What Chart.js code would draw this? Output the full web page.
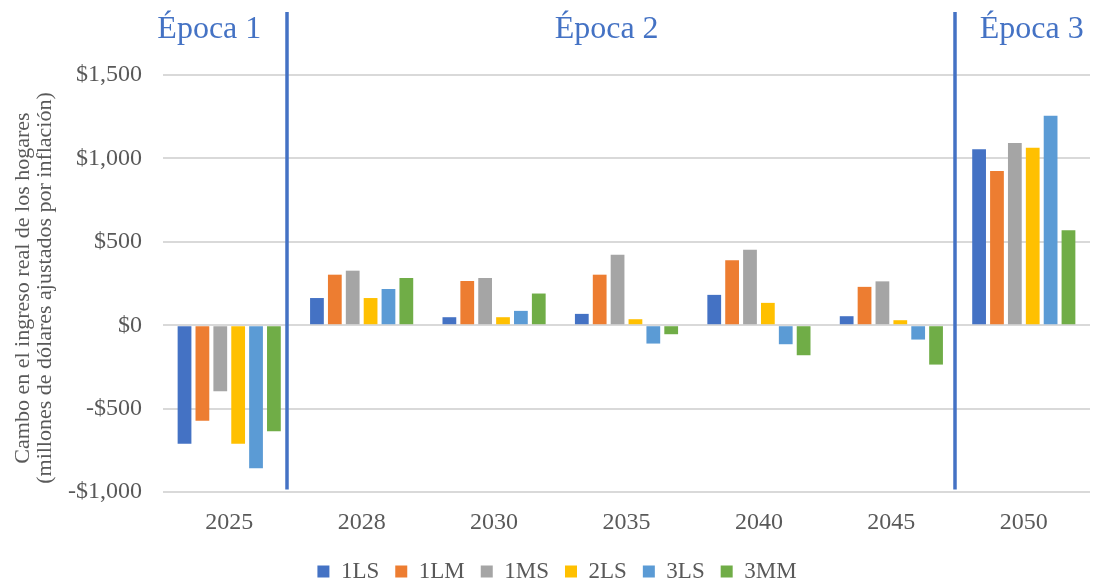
<!DOCTYPE html>
<html>
<head>
<meta charset="utf-8">
<script src="https://cdn.jsdelivr.net/npm/chart.js@4.4.1/dist/chart.umd.min.js"></script>
<style>
  html, body { margin: 0; padding: 0; background: #fff; }
  #wrap { width: 1093px; height: 583px; position: relative; }
</style>
</head>
<body>
<div id="wrap"><canvas id="chart"></canvas></div>
<script>
const years = ['2025', '2028', '2030', '2035', '2040', '2045', '2050'];
const seriesNames = ['1LS', '1LM', '1MS', '2LS', '3LS', '3MM'];
const s1LS = [-711, 163, 48, 68, 182, 54, 1055];
const s1LM = [-573, 303, 265, 303, 389, 230, 924];
const s1MS = [-396, 327, 283, 423, 453, 263, 1092];
const s2LS = [-711, 163, 48, 36, 134, 30, 1064];
const s3LS = [-858, 217, 86, -110, -114, -86, 1256];
const s3MM = [-636, 283, 190, -54, -180, -236, 569];
const yTicks = [-1000, -500, 0, 500, 1000, 1500];
const seriesColors = ['#4472C4', '#ED7D31', '#A5A5A5', '#FFC000', '#5B9BD5', '#70AD47'];
const yTitle = ['Cambo en el ingreso real de los hogares', '(millones de dólares ajustados por inflación)'];

// epoch dividers (category index position) and labels
const epochLines = [0.44, 5.48];
const epochLabels = ['Época 1', 'Época 2', 'Época 3'];
const epochLabelPos = [-0.15, 2.85, 6.06];

const serif = "'Liberation Serif', 'DejaVu Serif', serif";

const epochPlugin = {
    id: 'epochs',
    beforeInit(chart) {
        // fixed legend height, and nudge the legend row to where the original has it
        const legend = chart.legend;
        const fit = legend.fit;
        legend.fit = function() {
            fit.call(legend);
            legend.height = 47;
        };
        const draw = legend.draw;
        legend.draw = function() {
            chart.ctx.save();
            chart.ctx.translate(12, 8);
            draw.call(legend);
            chart.ctx.restore();
        };
    },
    afterDatasetsDraw(chart) {
        const ctx = chart.ctx;
        const x = chart.scales.x;
        const y = chart.scales.y;
        ctx.save();
        ctx.strokeStyle = '#4472C4';
        ctx.lineWidth = 3.5;
        epochLines.forEach(v => {
            const px = Math.round(x.getPixelForValue(v));
            ctx.beginPath();
            ctx.moveTo(px, chart.chartArea.top);
            ctx.lineTo(px, y.getPixelForValue(-985));
            ctx.stroke();
        });
        ctx.fillStyle = '#4472C4';
        ctx.font = '32px ' + serif;
        ctx.textAlign = 'center';
        ctx.textBaseline = 'alphabetic';
        epochLabels.forEach((t, i) => {
            ctx.fillText(t, x.getPixelForValue(epochLabelPos[i]), 38);
        });

        // y axis title, two rotated lines
        ctx.fillStyle = '#595959';
        ctx.font = '22px ' + serif;
        ctx.textBaseline = 'middle';
        ctx.translate(0, 288);
        ctx.rotate(-Math.PI / 2);
        ctx.fillText(yTitle[0], 0, 23);
        ctx.fillText(yTitle[1], 0, 45);
        ctx.restore();
    }
};

const allSeries = [s1LS, s1LM, s1MS, s2LS, s3LS, s3MM];
const datasets = seriesNames.map((name, i) => ({
    label: name,
    data: allSeries[i],
    backgroundColor: seriesColors[i],
    borderWidth: 0,
    categoryPercentage: 0.81,
    barPercentage: 0.77
}));

new Chart(document.getElementById('chart').getContext('2d'), {
    type: 'bar',
    data: { labels: years, datasets: datasets },
    options: {
        responsive: true,
        maintainAspectRatio: false,
        animation: false,
        layout: { padding: { top: 12, right: 3, left: 0, bottom: 0 } },
        plugins: {
            legend: {
                position: 'bottom',
                labels: {
                    boxWidth: 12,
                    boxHeight: 12,
                    padding: 16,
                    color: '#595959',
                    font: { family: serif, size: 23 }
                }
            },
            tooltip: { enabled: false }
        },
        scales: {
            x: {
                grid: { display: false, drawTicks: false },
                border: { display: false },
                afterFit(scale) { scale.height = 44; },
                ticks: {
                    color: '#595959',
                    padding: 16,
                    font: { family: serif, size: 24 }
                }
            },
            y: {
                min: -1000,
                max: 1878,
                afterBuildTicks(scale) {
                    scale.ticks = yTicks.map(v => ({ value: v }));
                },
                afterFit(scale) {
                    scale.width = 163;
                    scale.paddingTop = 0;
                    scale.paddingBottom = 0;
                },
                ticks: {
                    color: '#595959',
                    padding: 21,
                    font: { family: serif, size: 24 },
                    callback: v => (v < 0 ? '-$' : '$') + Math.abs(v).toLocaleString('en-US')
                },
                grid: { color: '#D9D9D9', lineWidth: 2, drawTicks: false },
                border: { display: false }
            }
        }
    },
    plugins: [epochPlugin]
});
</script>
</body>
</html>
